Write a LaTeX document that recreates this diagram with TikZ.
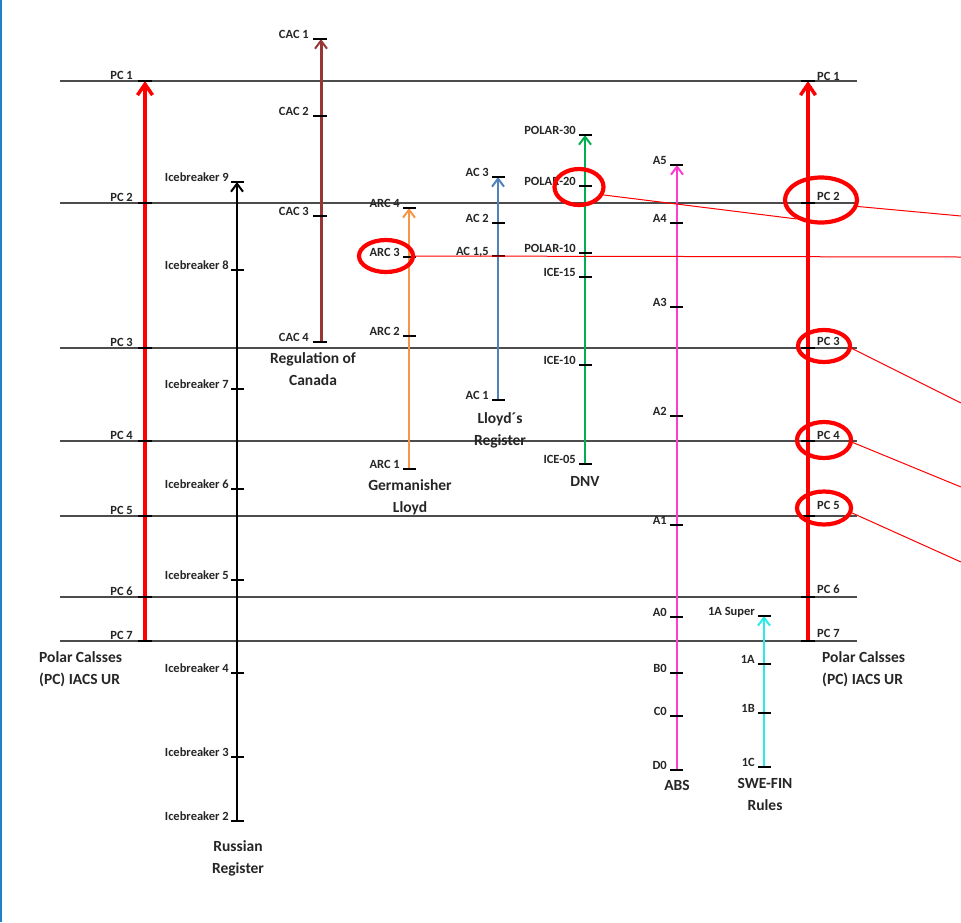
\documentclass[tikz,border=0pt]{standalone}
\usepackage{fontspec}
\setmainfont{Carlito}
\usetikzlibrary{arrows.meta,shapes.geometric}
\definecolor{edgeblue}{RGB}{30,130,200}
\definecolor{cacbrown}{RGB}{150,55,53}
\definecolor{arcorange}{RGB}{247,150,70}
\definecolor{acblue}{RGB}{79,129,189}
\definecolor{dnvgreen}{RGB}{0,176,80}
\definecolor{absmag}{RGB}{255,60,210}
\definecolor{swecyan}{RGB}{40,235,235}
\tikzset{
  hline/.style={draw=black!70, line width=1.3pt},
  tickmark/.style={draw=black, line width=2.6pt},
  lab/.style={font=\fontsize{12.5}{13}\selectfont\bfseries, inner sep=0pt, text=black!85},
  big/.style={font=\fontsize{15.5}{22}\selectfont\bfseries, align=center, inner sep=0pt, text=black!85},
  thinhead/.style={-{Straight Barb[length=8pt,width=12pt,line width=2pt]}},
  thickhead/.style={-{Straight Barb[length=11pt,width=15pt,line width=3.5pt]}},
  ring/.style={ellipse, draw=red, line width=4.2pt, inner sep=0pt},
  callout/.style={draw=red, line width=1pt}
}
\begin{document}
\begin{tikzpicture}[x=1pt,y=-1pt]
\useasboundingbox[fill=white] (0,0) rectangle (961,922);
\draw[edgeblue, line width=2pt] (1,0) -- (1,922);

% horizontal PC levels
\foreach \y/\n in {81/h1,203/h2,348/h3,441/h4,516/h5,597/h6,641/h7}{
  \coordinate (\n L) at (60,\y);
  \coordinate (\n R) at (857,\y);
  \draw[hline] (\n L) -- (\n R);
}

% ---- Polar classes left (red)
\coordinate (pcLbot) at (145,641);
\coordinate (pcLtop) at (145,81);
\draw[red, line width=4pt, thickhead] (pcLbot) -- (pcLtop);
\foreach \y/\t/\n in {81/PC 1/pl1,203/PC 2/pl2,348/PC 3/pl3,441/PC 4/pl4,516/PC 5/pl5,597/PC 6/pl6,641/PC 7/pl7}{
  \draw[tickmark] (138,\y) -- (152,\y);
  \node[lab, anchor=base east] (\n) at (133,\y-2) {\t};
}

% ---- Polar classes right (red)
\coordinate (pcRbot) at (808,641);
\coordinate (pcRtop) at (808,81);
\draw[red, line width=4pt, thickhead] (pcRbot) -- (pcRtop);
\foreach \y in {81,203,348,441,516,597,641}{
  \draw[tickmark] (801,\y) -- (815,\y);
}
\foreach \y/\t/\n in {81/PC 1/pr1,201/PC 2/pr2,346/PC 3/pr3,440/PC 4/pr4,510/PC 5/pr5,594/PC 6/pr6,638/PC 7/pr7}{
  \node[lab, anchor=base west] (\n) at (817,\y-1) {\t};
}

% ---- Russian Register (black)
\coordinate (rrbot) at (237,821);
\coordinate (rrtop) at (237,182);
\draw[black, line width=2pt, thinhead] (rrbot) -- (rrtop);
\foreach \y/\t/\n in {182/Icebreaker 9/ib9,270/Icebreaker 8/ib8,389/Icebreaker 7/ib7,489/Icebreaker 6/ib6,580/Icebreaker 5/ib5,673/Icebreaker 4/ib4,757/Icebreaker 3/ib3,821/Icebreaker 2/ib2}{
  \draw[tickmark] (231,\y) -- (244,\y);
  \node[lab, anchor=base east] (\n) at (229,\y-1) {\t};
}
\node[big, anchor=north] (rrname) at (238,840) {Russian\\Register};

% ---- Regulation of Canada (brown)
\coordinate (cacbot) at (321,342);
\coordinate (cactop) at (321,39);
\draw[cacbrown, line width=3pt, thinhead] (cacbot) -- (cactop);
\foreach \y/\t/\n in {39/CAC 1/cac1,116/CAC 2/cac2,216/CAC 3/cac3,342/CAC 4/cac4}{
  \draw[tickmark] (313,\y) -- (327,\y);
  \node[lab, anchor=base east] (\n) at (309,\y-1) {\t};
}
\node[big, anchor=north] (cacname) at (313,352) {Regulation of\\Canada};

% ---- Germanischer Lloyd (orange)
\coordinate (arcbot) at (409,469);
\coordinate (arctop) at (409,208);
\draw[arcorange, line width=2pt, thinhead] (arcbot) -- (arctop);
\foreach \y/\t/\n in {208/ARC 4/arc4,257/ARC 3/arc3,336/ARC 2/arc2,469/ARC 1/arc1}{
  \draw[tickmark] (403,\y) -- (416,\y);
  \node[lab, anchor=base east] (\n) at (400,\y-1) {\t};
}
\node[big, anchor=north] (arcname) at (410,479) {Germanisher\\Lloyd};

% ---- Lloyd's Register (blue)
\coordinate (acbot) at (498,400);
\coordinate (actop) at (498,177);
\draw[acblue, line width=2pt, thinhead] (acbot) -- (actop);
\foreach \y/\t/\n in {177/AC 3/ac3,223/AC 2/ac2,256/{AC 1,5}/ac15,400/AC 1/ac1}{
  \draw[tickmark] (492,\y) -- (505,\y);
  \node[lab, anchor=base east] (\n) at (489,\y-1) {\t};
}
\node[big, anchor=north] (acname) at (500,412) {Lloyd\textasciiacute s\\Register};

% ---- DNV (green)
\coordinate (dnvbot) at (585,464);
\coordinate (dnvtop) at (585,135);
\draw[dnvgreen, line width=2pt, thinhead] (dnvbot) -- (dnvtop);
\foreach \y/\t/\n in {135/POLAR-30/p30,186/POLAR-20/p20,253/POLAR-10/p10,277/ICE-15/i15,365/ICE-10/i10,464/ICE-05/i05}{
  \draw[tickmark] (579,\y) -- (592,\y);
  \node[lab, anchor=base east] (\n) at (576,\y-1) {\t};
}
\node[big, anchor=north] (dnvname) at (585,476) {DNV};

% ---- ABS (magenta)
\coordinate (absbot) at (677,770);
\coordinate (abstop) at (677,165);
\draw[absmag, line width=2pt, thinhead] (absbot) -- (abstop);
\foreach \y/\t/\n in {165/A5/a5,223/A4/a4,307/A3/a3,416/A2/a2,525/A1/a1,617/A0/a0,673/B0/b0,716/C0/c0,770/D0/d0}{
  \draw[tickmark] (670,\y) -- (683,\y);
  \node[lab, anchor=base east] (\n) at (667,\y-1) {\t};
}
\node[big, anchor=north] (absname) at (677,780) {ABS};

% ---- SWE-FIN Rules (cyan)
\coordinate (swebot) at (764,767);
\coordinate (swetop) at (764,616);
\draw[swecyan, line width=2pt, thinhead] (swebot) -- (swetop);
\foreach \y/\t/\n in {616/1A Super/s1as,664/1A/s1a,713/1B/s1b,767/1C/s1c}{
  \draw[tickmark] (758,\y) -- (771,\y);
  \node[lab, anchor=base east] (\n) at (755,\y-1) {\t};
}
\node[big, anchor=north] (swename) at (765,778) {SWE-FIN\\Rules};

% ---- Polar class titles
\node[big, align=left, anchor=north west] (pcLname) at (39,651) {Polar Calsses\\(PC) IACS UR};
\node[big, align=left, anchor=north west] (pcRname) at (822,651) {Polar Calsses\\(PC) IACS UR};

% ---- red rings
\node[ring, minimum width=49pt, minimum height=36pt] (eP20) at (579,187) {};
\node[ring, minimum width=54pt, minimum height=32pt] (eARC3) at (386,256) {};
\node[ring, minimum width=72pt, minimum height=45pt] (ePC2) at (821,200) {};
\node[ring, minimum width=52pt, minimum height=32pt] (ePC3) at (824,346) {};
\node[ring, minimum width=54pt, minimum height=36pt] (ePC4) at (824,440) {};
\node[ring, minimum width=54pt, minimum height=33pt] (ePC5) at (824,508) {};

% ---- call-out lines
\coordinate (oPC2) at (961,216);
\coordinate (oARC3) at (961,257);
\coordinate (oPC3) at (961,403);
\coordinate (oPC4) at (961,487);
\coordinate (oPC5) at (961,562);
\draw[callout] (eP20.-18) -- (ePC2.218);
\draw[callout] (ePC2.-10) -- (oPC2);
\draw[callout] (eARC3.east) -- (oARC3);
\draw[callout] (ePC3.-5) -- (oPC3);
\draw[callout] (ePC4.-5) -- (oPC4);
\draw[callout] (ePC5.-10) -- (oPC5);
\end{tikzpicture}
\end{document}
